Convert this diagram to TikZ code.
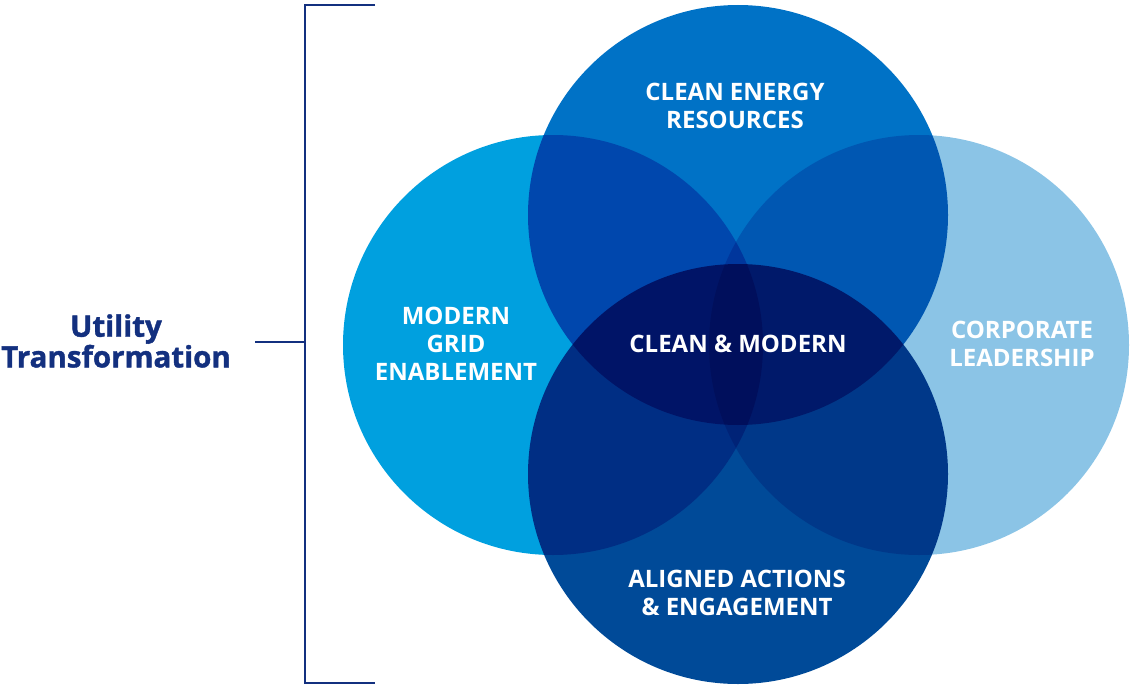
\documentclass[tikz,border=0pt]{standalone}
\usepackage{fontspec}
\setmainfont{Open Sans}
\newfontfamily\heavyfont{Open Sans}[BoldFeatures={FakeBold=1.3}]
\definecolor{cLeft}{RGB}{0,160,223}
\definecolor{cTop}{RGB}{0,114,198}
\definecolor{cRight}{RGB}{139,196,230}
\definecolor{cBottom}{RGB}{0,74,152}
\definecolor{navy}{RGB}{19,48,127}
\tikzset{
  venn/.style={circle, minimum size=420pt, inner sep=0pt, draw=none},
  lbl/.style={text=white, align=center, font=\bfseries\fontsize{24}{28}\selectfont},
  brk/.style={draw=navy, line width=2pt},
}
\begin{document}
\begin{tikzpicture}[x=1pt,y=-1pt]
\useasboundingbox (0,0) rectangle (1132,685);
\begin{scope}[blend group=multiply]
  \node[venn, fill=cLeft] (left) at (553,345) {};
  \node[venn, fill=cRight] (right) at (919,345) {};
  \node[venn, fill=cTop] (top) at (738,215) {};
  \node[venn, fill=cBottom] (bottom) at (738,474) {};
\end{scope}
\node[lbl] (tcer) at (735,106) {CLEAN ENERGY\\RESOURCES};
\node[lbl] (tmge) at (456,344) {MODERN\\GRID\\ENABLEMENT};
\node[lbl] (tcm) at (738,344) {CLEAN \& MODERN};
\node[lbl] (tcl) at (1022,344) {CORPORATE\\LEADERSHIP};
\node[lbl] (taae) at (737,593) {ALIGNED ACTIONS\\\& ENGAGEMENT};
\node[text=navy, align=center, font=\heavyfont\bfseries\fontsize{29.5}{29}\selectfont] (ut) at (116,341) {Utility\\Transformation};
\coordinate (bt) at (375,5);
\coordinate (bv1) at (305,5);
\coordinate (bv2) at (305,683);
\coordinate (bb) at (375,683);
\coordinate (bm) at (305,342);
\coordinate (bl) at (255,342);
\draw[brk] (bt) -- (bv1) -- (bv2) -- (bb);
\draw[brk] (bl) -- (bm);
\end{tikzpicture}
\end{document}
